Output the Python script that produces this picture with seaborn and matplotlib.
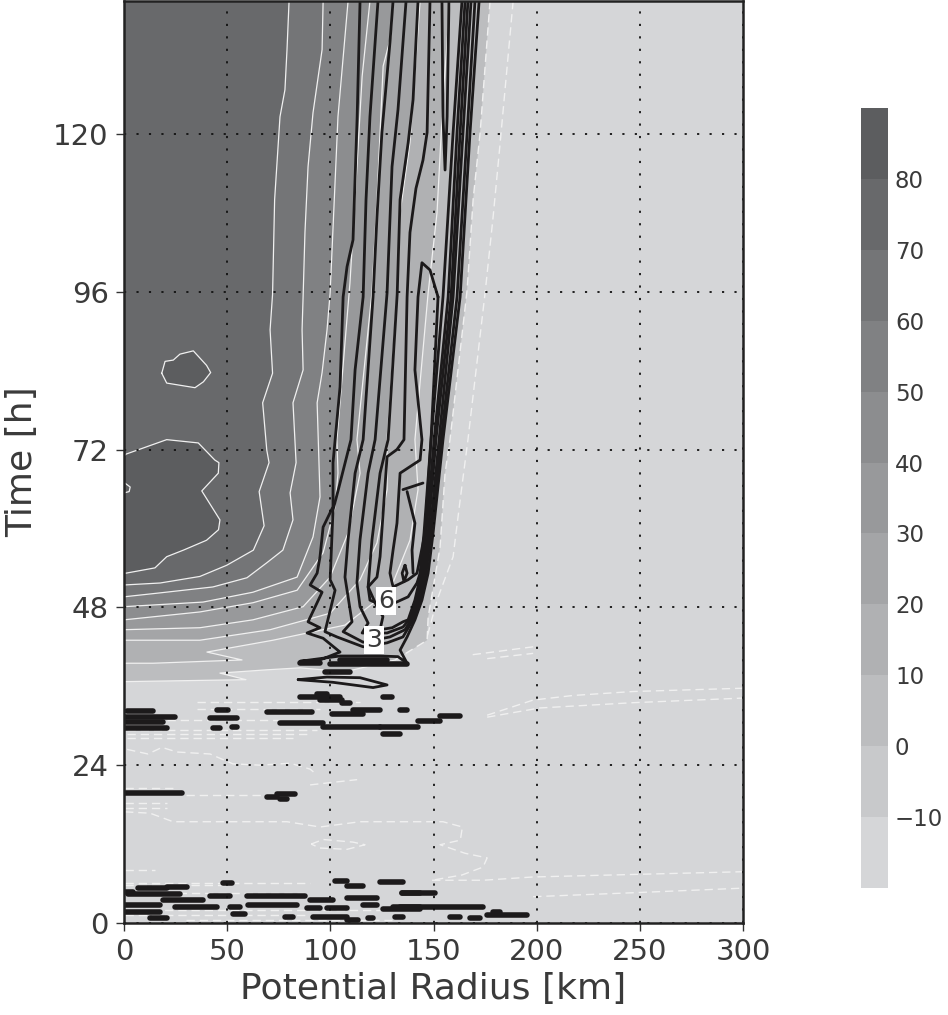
import matplotlib
matplotlib.use("Agg")
import matplotlib.pyplot as plt
from matplotlib.colors import ListedColormap
import numpy as np
import pandas as pd
import seaborn as sns

sns.set_style("ticks")
plt.rcParams["font.family"] = ["DejaVu Sans"]

# colour bar
cbar_labels = [80, 70, 60, 50, 40, 30, 20, 10, 0, -10]
band_mid = [85, 75, 65, 55, 45, 35, 25, 15, 5, -5, -15]
band_colors = ["#5c5d5f", "#68696b", "#747577", "#808183", "#8c8d8f", "#98999b",
               "#a4a5a7", "#b0b1b3", "#bcbdbf", "#c8c9cb", "#d5d6d8"]

# white contours: radius [km], time [h], top of the plot down to the left edge
r_lev70 = [80, 79, 78, 75.6, 73, 72, 70.8, 72, 67.2, 69.2, 70.3, 65.5, 67.9, 62.7, 49.8, 36.8, 17.5, 0]
t_lev70 = [140.2, 132.8, 126.7, 122.6, 110, 95.6, 90.2, 83.6, 79.1, 71.9, 70, 65.6, 60.4, 56.7, 54.4, 52.7, 51.7, 51.4]
r_lev60 = [96.5, 96, 91.6, 89.2, 87.7, 86.8, 86.3, 86.8, 81.9, 83.4, 80.5, 81.9, 77, 69.3, 59.6, 43.1, 17.5, 0]
t_lev60 = [140.2, 132.8, 123.2, 115, 105, 95.2, 90.2, 84.1, 79.1, 70, 65.4, 61.3, 56.7, 54.8, 52.5, 51.1, 50.2, 49.6]
r_lev50 = [108.6, 103.7, 99.9, 98.4, 96, 93.6, 95, 91.6, 83.9, 62.5, 38.3, 0]
t_lev50 = [140.2, 122.6, 95.8, 90.2, 83.7, 79.1, 64.8, 58.7, 52.6, 50.3, 48.8, 48.1]
r_lev40 = [119.2, 115.4, 112.9, 109.5, 103.2, 103.7, 102.3, 96.5, 83.9, 62.5, 36.8, 0]
t_lev40 = [140.2, 128.7, 115, 97.3, 73.5, 68.4, 63.3, 56.3, 50.6, 48.7, 47.3, 46.1]
r_lev30 = [130.4, 129.4, 125.6, 122.6, 120.2, 112.9, 114.4, 108.6, 99.9, 86.8, 62.5, 36.8, 0]
t_lev30 = [140.2, 134.9, 130.3, 110, 96, 73.5, 68.4, 59.3, 52.6, 48.1, 46.1, 44.9, 44.6]
r_lev20 = [143.5, 138.6, 133.8, 132.4, 127.5, 127.5, 122.6, 114.4, 99.9, 70.8, 36.8, 0]
t_lev20 = [140.2, 118.7, 108, 95.8, 73.5, 65.9, 57.8, 52.2, 47.1, 44.6, 43, 43]
r_lev10 = [158, 154.6, 151.7, 147.4, 141, 142.5, 138.6, 128.9, 107.1, 72.2, 40.2, 57.2, 14.1, 0]
t_lev10 = [140.2, 125.2, 108, 95.8, 73.5, 65.9, 58.2, 50.6, 45.3, 43, 41.2, 40, 39.5, 39.5]
r_lev0 = [177.4, 172.6, 169.2, 166.3, 158, 155.6, 153.2, 147.4, 146.9, 131.4, 107.1, 85.3, 69.3, 46.5, 59.1, 0]
t_lev0 = [140.2, 120.2, 110, 96.3, 73.5, 68.4, 57.2, 46.5, 43, 40, 38.2, 38.8, 38.5, 38, 37, 36.7]
r_neg10 = [188.6, 182.3, 178.9, 175, 166.7, 162.9, 159.5, 151.7, 146.9]
t_neg10 = [140.2, 118.6, 107.4, 95.8, 73.5, 64.3, 55.7, 49.1, 43.5]

# closed patches above 80
r_patch80 = [0, 1, 20.7, 36, 44, 46, 45.7, 37.7, 46.5, 45.8, 40, 28.8, 20.7, 15, 1, 0]
t_patch80 = [71, 71.3, 73.5, 73, 70.4, 70, 68.4, 65.7, 61.3, 59.8, 58.2, 56.7, 55.7, 54, 53.2, 53.2]
r_blob80 = [18.3, 19.9, 23.9, 27.1, 33.6, 36.8, 40, 42, 38.5, 34.4, 20.7, 18.3]
t_blob80 = [83.6, 85.4, 85.6, 86.5, 87, 85.9, 84.8, 83.7, 82.3, 81.4, 82.1, 83.6]
r_tiny = [0, 3, 2.5, 0]
t_tiny = [67, 66.3, 65.6, 65.4]

# dashed negative contours, lower part
r_neg_a = [1.5, 11.6, 18.4, 25.7, 41.7, 52.8, 66, 80.5, 90.2, 93.6]
t_neg_a = [26.4, 25.7, 26.7, 26, 25.7, 24.2, 24, 24.3, 23.4, 22.5]
r_neg_b = [90.2, 113]
t_neg_b = [21, 21.8]
r_neg_c = [0.5, 12.6, 23.8, 79, 95, 114.4, 143.5, 154.6, 164, 163, 153.2, 165.3, 176, 174, 163.8, 149.3]
t_neg_c = [16.9, 16.7, 15.4, 15.4, 14.6, 15.4, 15.4, 15.4, 14.6, 12.6, 11.9, 10.6, 9.9, 8.5, 7.3, 6.5]
r_neg_d = [90.7, 96.5, 111, 116.8, 108.1, 95, 90.7]
t_neg_d = [12, 12.7, 12.3, 11.9, 11.2, 11.4, 12]
r_neg_e = [176, 198.3, 217.7, 246.7, 300]
t_neg_e = [31.6, 33.9, 34.6, 35.2, 35.7]
r_neg_f = [176, 201.6, 246.7, 300]
t_neg_f = [31.3, 32.7, 33.5, 34.2]
r_neg_g = [149.3, 174, 198.3, 300]
t_neg_g = [6.5, 6.5, 7, 7.8]
r_neg_h = [198.3, 246.7, 300]
t_neg_h = [4, 4.6, 5.3]
r_neg_i = [169, 198.3]
t_neg_i = [40.8, 42]
r_neg_j = [176, 198.3]
t_neg_j = [40.2, 41]

# short dashed rows: start, end, time
row_r0 = [1.5, 1.5, 1.5, 20.8, 35.4, 35.4, 0.5, 0.5, 30, 0.5, 0.5, 0.5, 0.5, 20, 0.5, 0.5, 30]
row_r1 = [88.7, 81.9, 93.6, 75.6, 95, 114.4, 20.8, 20.8, 70, 25, 15, 90, 50, 90, 140, 90, 130]
row_t = [28.7, 28.1, 29.4, 30.9, 32.5, 33.6, 18.2, 17.5, 19.5, 20.5, 8.1, 6.1, 5.8, 4.6, 2, 1.2, 0.5]

# black contours, the small islands are further down
bundle_t = [46.1, 49.1, 53.2, 59.3, 73.5, 95.2, 120.2, 140.2]
bundle_1 = [141, 144.4, 147.4, 149.8, 154.6, 162.9, 167.7, 172.1]
bundle_2 = [140.1, 143.5, 146.4, 148.8, 153.7, 161.4, 166.3, 170.1]
bundle_3 = [139.1, 142.5, 145.4, 148.3, 152.7, 159.5, 164.3, 168.2]
bundle_4 = [138.1, 141.6, 144.9, 147.4, 151.2, 158.5, 162.9, 166.7]
bundle_5 = [137.7, 141, 144, 146.4, 150.3, 157.1, 161.4, 165.3]
bundle_6 = [137.2, 140.1, 143.5, 145.4, 148.8, 154.6, 159.5, 163.8]

r_c1 = [114.4, 113, 111, 108.1, 106.2, 104.7, 101.3, 101.3, 96.5, 95, 93.6, 90.2, 96, 89.2, 95, 88.7, 96.5,
        104.7, 95, 85.3, 104.7, 124.1, 132.8, 137.2, 133.8, 137.2]
t_c1 = [140.2, 122.6, 103.9, 99.8, 95.2, 81.5, 70, 63.3, 60.2, 55.7, 53.2, 51.4, 50.3, 45.8, 44.9, 44.1, 43.3,
        41.2, 40, 39.8, 40.6, 40.6, 40.5, 39.5, 41.5, 43.5]
r_c2 = [123.1, 119.2, 117.3, 115.9, 112, 110, 104.2, 101.3, 99.9, 102.3, 97.4, 103.2, 115.9, 127.5, 135.2]
t_c2 = [140.2, 122.6, 110, 95.2, 84.1, 73.5, 66.3, 62.8, 52.2, 50.6, 44.3, 43.5, 42, 42.6, 43.5]
r_c3 = [130.4, 128.9, 125, 122.6, 120.7, 115.9, 112, 108.6, 107.1, 110.5, 106.2, 115.9, 128.9, 136.2]
t_c3 = [140.2, 133.9, 120.2, 107.4, 95.2, 73.5, 68.4, 58.3, 52.6, 45.8, 44.3, 42.7, 43.5, 44.6]
r_c4 = [136.7, 132.8, 129.9, 127.5, 121.7, 118.3, 114.4, 112.9, 114.4, 118.3, 115.4, 127.5, 135.2]
t_c4 = [140.2, 123.7, 115, 95.8, 73.5, 68.4, 58.3, 51.7, 48.1, 45.6, 44.1, 44.1, 45]
r_c5 = [142.5, 140.1, 137.7, 133.8, 132.4, 128, 124.1, 120.2, 118.3, 122.6, 125.5, 124.1, 130, 135.2]
t_c5 = [140.2, 125.2, 118.6, 110, 95.6, 73.5, 68.4, 58.3, 51.1, 48.1, 46.6, 44.6, 44.9, 45.8]
r_c6 = [148.3, 146.9, 144.9, 141.5, 138.6, 137.2, 135.7, 132.3, 127.5, 124.1, 122.6, 118.3, 119.2, 124.1, 131.4, 137.7, 142]
t_c6 = [140.2, 120.2, 116, 111.7, 105, 95.2, 73.5, 72, 70.9, 55.7, 52.6, 51.1, 49.1, 48.4, 48.7, 49.6, 51.7]
r_c7 = [152.2, 148.3, 144.4, 142.5, 141, 144.4, 143.5, 140.1, 133.8, 133.3, 132.3, 130.4, 128.9, 130.4, 137.7, 142, 145.9, 148.8, 152.2]
t_c7 = [95.2, 99.3, 100.4, 95.2, 84.1, 73.5, 70.4, 69.7, 68.4, 65.9, 60.8, 56.7, 53.2, 51.1, 52.2, 53.2, 59.3, 73.5, 95.2]
r_c8 = [135.2, 144.9]
t_c8 = [65.9, 66.9]
r_c9 = [137.2, 141, 139.6, 140.1]
t_c9 = [65.6, 60.8, 56.7, 53.2]
r_oval = [136.2, 137.2, 135.7, 134.8, 136.2]
t_oval = [54.4, 53.2, 51.9, 53.2, 54.4]
r_spike = [154.1, 154.6, 155.6, 156.6, 157.5]
t_spike = [140.2, 122.6, 114.5, 122.6, 140.2]
r_ring = [84.4, 98.4, 114.4, 127.5, 120.7, 101.3, 84.4]
t_ring = [37, 37.4, 37.3, 36.2, 35.8, 36.6, 37]

# noisy islands near the start of the run: start, end, time
blob_r0 = [85.3, 99.9, 97.4, 104.7, 85.3, 93.6, 95, 105.7, 125.5, 69.3, 75.6, 100.8, 111, 133.8, 96.5, 124.1, 125.5,
           0.5, 0.5, 1.5, 0.5, 45.1, 41.7, 43.1, 52.4, 142.5, 153.2, 0.5, 69.3, 74.2, 75.6, 48, 102.3, 108.1, 124.1,
           20.8, 6.8, 0.5, 1.9, 18.9, 41.7, 59.6, 60.1, 51.4, 90.2, 108.1, 134.8, 0.5, 24.7, 88.7, 98.4, 115.9, 125.5,
           130.4, 0.5, 12.6, 52.8, 78, 91.6, 108.1, 118.3, 131.4, 133.8, 134.8, 158, 167.7, 176, 178.9]
blob_r1 = [95, 137.2, 109.5, 127.5, 104.7, 98.4, 105.7, 109.5, 129.9, 91.1, 96.5, 115.9, 124.1, 137.2, 124.1, 142.5, 133.8,
           24.7, 18.9, 14.1, 20.8, 50.4, 54.8, 46.5, 54.8, 153.2, 162.9, 28.1, 74.2, 82.9, 79, 52.4, 108.1, 115.9, 135.2,
           30.5, 20.8, 4.4, 27.1, 38.3, 51.4, 87.7, 83.9, 56.2, 101.3, 122.6, 143.5, 17.5, 45.1, 95, 108.1, 122.6, 143.5,
           143.5, 17.5, 20.8, 58.7, 81.9, 108.1, 113.4, 120.7, 135.2, 174, 150.8, 162.9, 172.6, 195.3, 182.3]
blob_t = [39.5, 39.4, 38.2, 40, 34.4, 34.8, 33.9, 33.5, 34.4, 32.1, 30.4, 31.8, 32.4, 32.4, 29.8, 29.8, 28.7,
          31.3, 30.6, 32.2, 29.7, 32.4, 31.2, 29.7, 29.8, 30.7, 31.5, 19.8, 19.2, 19.6, 18.9, 6.1, 6.4, 5.6, 6.2,
          5.5, 5.3, 4.7, 4.4, 3.5, 4.1, 4.1, 2.7, 2.4, 3.5, 3.8, 4.6, 2.7, 2.4, 2.3, 2.3, 2.7, 2.1,
          2.4, 1.7, 0.8, 1.4, 0.9, 0.9, 0.5, 0.8, 0.9, 2.4, 4.6, 0.9, 0.8, 1.2, 1.7]

x_ticks = [0, 50, 100, 150, 200, 250, 300]
y_ticks = [0, 24, 48, 72, 96, 120]

WHITE = "#f0f0f0"
BLACK = "#1c1a1b"
TEXT = "#3a3a3a"


def segments(r0, r1, t):
    rows = []
    for i, (a, b, c) in enumerate(zip(r0, r1, t)):
        rows.append({"seg": i, "r": a, "t": c})
        rows.append({"seg": i, "r": b, "t": c})
    return pd.DataFrame(rows)


def contour(ax, r, t, color, lw, ls="-"):
    sns.lineplot(x=r, y=t, sort=False, estimator=None, color=color, linewidth=lw,
                 linestyle=ls, ax=ax, legend=False)


fig = plt.figure(figsize=(9.48, 10.15), dpi=100)
ax = fig.add_axes([124 / 948, 92 / 1015, 619 / 948, 922 / 1015])
ax.set_facecolor(band_colors[10])

# filled bands, lowest level first
fills = [(r_lev0, t_lev0, 8), (r_lev10, t_lev10, 7), (r_lev20, t_lev20, 6), (r_lev30, t_lev30, 5),
         (r_lev40, t_lev40, 4), (r_lev50, t_lev50, 3), (r_lev60, t_lev60, 2), (r_lev70, t_lev70, 1)]
for r, t, idx in fills:
    ax.fill(r + [0, 0], t + [t[-1], 140.2], color=band_colors[idx], lw=0, zorder=1)
for r, t in [(r_patch80, t_patch80), (r_blob80, t_blob80), (r_tiny, t_tiny)]:
    ax.fill(r, t, color=band_colors[0], lw=0, zorder=1)

# white contours
for r, t in [(r_lev70, t_lev70), (r_lev60, t_lev60), (r_lev50, t_lev50), (r_lev40, t_lev40),
             (r_lev30, t_lev30), (r_lev20, t_lev20), (r_lev10, t_lev10),
             (r_patch80, t_patch80), (r_blob80, t_blob80), (r_tiny, t_tiny), (r_lev0[9:], t_lev0[9:])]:
    contour(ax, r, t, WHITE, 0.9)
dash = (0, (6, 3.5))
for r, t in [(r_lev0[:10], t_lev0[:10]), (r_neg10, t_neg10), (r_neg_a, t_neg_a), (r_neg_b, t_neg_b),
             (r_neg_c, t_neg_c), (r_neg_d, t_neg_d), (r_neg_e, t_neg_e), (r_neg_f, t_neg_f),
             (r_neg_g, t_neg_g), (r_neg_h, t_neg_h), (r_neg_i, t_neg_i), (r_neg_j, t_neg_j)]:
    contour(ax, r, t, WHITE, 1.0, dash)
sns.lineplot(data=segments(row_r0, row_r1, row_t), x="r", y="t", units="seg", estimator=None, sort=False,
             color=WHITE, linewidth=1.0, linestyle=dash, ax=ax, legend=False)

# black contours
paths = [(r_c1 + bundle_1, t_c1 + bundle_t), (r_c2 + bundle_2, t_c2 + bundle_t), (r_c3 + bundle_3, t_c3 + bundle_t),
         (r_c4 + bundle_4, t_c4 + bundle_t), (r_c5 + bundle_5, t_c5 + bundle_t),
         (r_c6 + bundle_6[2:], t_c6 + bundle_t[2:]), (r_c7, t_c7), (r_c8, t_c8), (r_c9, t_c9), (r_oval, t_oval),
         (r_spike, t_spike), (r_ring, t_ring)]
for r, t in paths:
    contour(ax, r, t, BLACK, 2.0)
sns.lineplot(data=segments(blob_r0, blob_r1, blob_t), x="r", y="t", units="seg", estimator=None, sort=False,
             color=BLACK, linewidth=4.0, ax=ax, legend=False)

# contour labels
for r, t, s in [(127, 48.9, "6"), (121.2, 43, "3")]:
    ax.text(r, t, s, ha="center", va="center", fontsize=18, color=TEXT, zorder=5,
            bbox=dict(facecolor="white", edgecolor="none", pad=1.5))

ax.set_xlim(0, 300)
ax.set_ylim(0, 140.2)
ax.set_xticks(x_ticks)
ax.set_yticks(y_ticks)
ax.set_axisbelow(False)
ax.grid(True, color="#111111", linewidth=1.3, linestyle=(0, (1.2, 5.7)))
ax.tick_params(length=6, width=1, color="#333333", labelsize=21, labelcolor=TEXT, pad=5)
for s in ax.spines.values():
    s.set_visible(True)
    s.set_linewidth(1.8)
    s.set_color("#222222")
    s.set_zorder(6)
ax.set_xlabel("Potential Radius [km]", fontsize=26, color=TEXT, labelpad=4)
ax.set_ylabel("Time [h]", fontsize=26, color=TEXT, labelpad=10)

# colour bar as a one column heatmap
cax = fig.add_axes([861 / 948, (1015 - 888) / 1015, 27 / 948, 780 / 1015])
sns.heatmap(np.array(band_mid).reshape(-1, 1), ax=cax, cbar=False, cmap=ListedColormap(band_colors[::-1]),
            xticklabels=False, yticklabels=False)
cax.yaxis.tick_right()
cax.set_yticks(np.arange(1, 11))
cax.set_yticklabels([str(v).replace("-", "\u2212") for v in cbar_labels], rotation=0, fontsize=16.5, color=TEXT)
cax.tick_params(axis="y", length=0, pad=5)

fig.savefig("out.png", dpi=100)
